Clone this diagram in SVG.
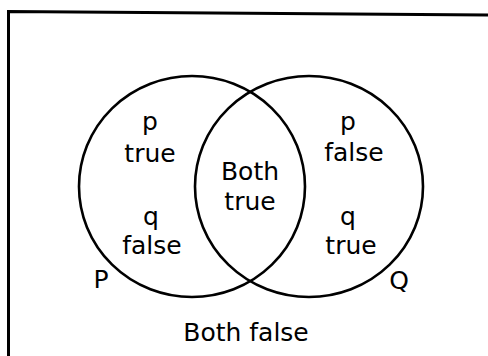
<svg xmlns="http://www.w3.org/2000/svg" width="488" height="356" viewBox="0 0 488 356">
<style>
.c{fill:none;stroke:#000;stroke-width:2.6}
.f{fill:none;stroke:#000;stroke-width:3}
text{font-family:"DejaVu Sans",sans-serif;font-size:25px;fill:#000;text-anchor:middle}
</style>
<rect width="488" height="356" fill="#fff"/>
<g id="frame"><path class="f" d="M8.5 358 L8.5 11.5 L488 15"/></g>
<g id="P"><ellipse class="c" cx="192" cy="186.5" rx="113" ry="110.5"/><text x="101" y="288">P</text></g>
<g id="Q"><ellipse class="c" cx="309" cy="186.5" rx="114" ry="110.5"/><text x="399" y="289">Q</text></g>
<g id="left"><text x="150" y="130">p</text><text x="150" y="162">true</text><text x="151" y="225">q</text><text x="152" y="254">false</text></g>
<g id="mid"><text x="250" y="180">Both</text><text x="250" y="210">true</text></g>
<g id="right"><text x="348" y="130">p</text><text x="354" y="161">false</text><text x="348" y="225">q</text><text x="351" y="254">true</text></g>
<g id="outside"><text x="246" y="341">Both false</text></g>
</svg>
